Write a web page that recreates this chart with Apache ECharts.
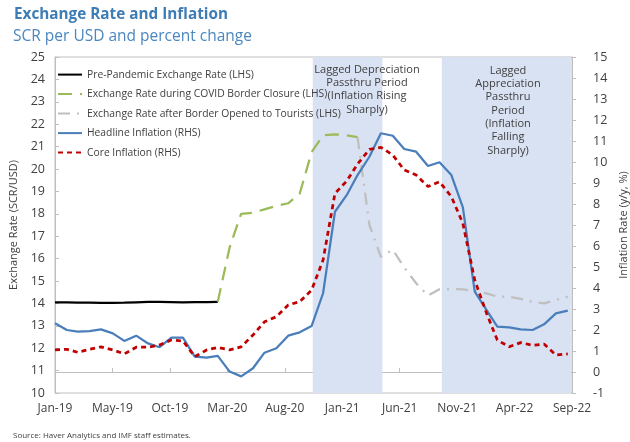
<!DOCTYPE html>
<html>
<head>
<meta charset="utf-8">
<script src="https://cdn.jsdelivr.net/npm/echarts@6/dist/echarts.min.js"></script>
<style>
  html, body { margin: 0; padding: 0; background: #fff; }
  #chart { width: 630px; height: 442px; }
</style>
</head>
<body>
<div id="chart"></div>
<script>
  // monthly observations, Jan-19 .. Sep-22
  const months = [
    'Jan-19', 'Feb-19', 'Mar-19', 'Apr-19', 'May-19', 'Jun-19', 'Jul-19', 'Aug-19', 'Sep-19', 'Oct-19', 'Nov-19', 'Dec-19',
    'Jan-20', 'Feb-20', 'Mar-20', 'Apr-20', 'May-20', 'Jun-20', 'Jul-20', 'Aug-20', 'Sep-20', 'Oct-20', 'Nov-20', 'Dec-20',
    'Jan-21', 'Feb-21', 'Mar-21', 'Apr-21', 'May-21', 'Jun-21', 'Jul-21', 'Aug-21', 'Sep-21', 'Oct-21', 'Nov-21', 'Dec-21',
    'Jan-22', 'Feb-22', 'Mar-22', 'Apr-22', 'May-22', 'Jun-22', 'Jul-22', 'Aug-22', 'Sep-22'
  ]
  const xTickLabels = ['Jan-19', 'May-19', 'Oct-19', 'Mar-20', 'Aug-20', 'Jan-21', 'Jun-21', 'Nov-21', 'Apr-22', 'Sep-22']

  // exchange rate, SCR per USD (LHS)
  const prePandemic = [14.05, 14.05, 14.03, 14.04, 14.02, 14.02, 14.03, 14.05, 14.07, 14.07, 14.06, 14.05,
    14.06, 14.06, 14.07]
  const borderClosure = [14.07, 16.5, 18.0, 18.05, 18.2, 18.35, 18.47, 18.9, 20.75, 21.5, 21.55, 21.5, 21.42] // Mar-20 .. Mar-21
  const borderOpened = [21.42, 17.5, 16.08, 16.4, 15.6, 14.9, 14.35, 14.63, 14.64, 14.63, 14.55, 14.45,
    14.3, 14.3, 14.2, 14.07, 14.0, 14.15, 14.3] // Mar-21 .. Sep-22

  // inflation, y/y % (RHS)
  const headline = [2.32, 2.0, 1.92, 1.95, 2.03, 1.84, 1.48, 1.73, 1.36, 1.18, 1.64, 1.64,
    0.73, 0.68, 0.77, 0.02, -0.21, 0.18, 0.92, 1.13, 1.73, 1.89, 2.19, 3.75,
    7.63, 8.43, 9.38, 10.25, 11.37, 11.25, 10.62, 10.49, 9.81, 9.99, 9.38, 7.84,
    3.83, 2.95, 2.16, 2.13, 2.03, 2.0, 2.27, 2.79, 2.92]
  const core = [1.05, 1.08, 0.94, 1.08, 1.2, 1.05, 0.86, 1.18, 1.18, 1.29, 1.52, 1.48,
    0.73, 1.05, 1.17, 1.05, 1.2, 1.76, 2.39, 2.63, 3.19, 3.35, 3.9, 5.33,
    8.5, 9.1, 9.9, 10.6, 10.7, 10.33, 9.62, 9.38, 8.83, 9.06, 8.35, 7.08,
    4.38, 2.79, 1.52, 1.2, 1.4, 1.27, 1.33, 0.81, 0.86]

  const shadePeriods = [['2020-11-04', '2021-05-05'], ['2021-10-07', '2022-09-09']]

  const MON = ['Jan', 'Feb', 'Mar', 'Apr', 'May', 'Jun', 'Jul', 'Aug', 'Sep', 'Oct', 'Nov', 'Dec']
  const START = Date.UTC(2019, 0, 1)
  const DAY = 86400000
  function monthDay(label) {
    const [m, y] = label.split('-')
    return (Date.UTC(2000 + Number(y), MON.indexOf(m), 1) - START) / DAY
  }
  function dateDay(s) {
    const [y, m, d] = s.split('-').map(Number)
    return (Date.UTC(y, m - 1, d) - START) / DAY
  }
  function pairs(values, startLabel) {
    const i0 = months.indexOf(startLabel)
    return values.map((v, i) => [monthDay(months[i0 + i]), v])
  }

  const textColor = '#404040'
  const font = 'Open Sans'

  const chart = echarts.init(document.getElementById('chart'))
  chart.setOption({
    animation: false,
    textStyle: { fontFamily: font },
    title: [{
      text: 'Exchange Rate and Inflation',
      left: 9, top: 2,
      textStyle: { fontSize: 15.3, fontWeight: 'bold', color: '#3e7cb5', fontFamily: font }
    }, {
      text: 'SCR per USD and percent change',
      left: 8, top: 24,
      textStyle: { fontSize: 15.5, fontWeight: 'normal', color: '#4a87c0', fontFamily: font }
    }, {
      text: 'Source: Haver Analytics and IMF staff estimates.',
      left: 8, top: 427,
      textStyle: { fontSize: 8, fontWeight: 'normal', color: textColor, fontFamily: font }
    }],
    grid: {
      left: 55, right: 58, top: 57, bottom: 49,
      outerBoundsMode: 'none',
      show: true, borderColor: '#bfbfbf', borderWidth: 1
    },
    legend: {
      orient: 'vertical',
      left: 57, top: 69, padding: 0,
      itemWidth: 24, itemHeight: 14, itemGap: 8.3,
      itemStyle: { opacity: 0 },
      textStyle: { fontSize: 10.3, color: textColor, fontFamily: font },
      data: ['Pre-Pandemic Exchange Rate (LHS)', 'Exchange Rate during COVID Border Closure (LHS)',
        'Exchange Rate after Border Opened to Tourists (LHS)', 'Headline Inflation (RHS)', 'Core Inflation (RHS)']
    },
    graphic: [{
      type: 'text', x: 367, y: 63, z: 100,
      style: {
        text: 'Lagged Depreciation\nPassthru Period\n(Inflation Rising\nSharply)',
        fontSize: 11, lineHeight: 13.3, fill: textColor, align: 'center', verticalAlign: 'top', fontFamily: font
      }
    }, {
      type: 'text', x: 508, y: 64, z: 100,
      style: {
        text: 'Lagged\nAppreciation\nPassthru\nPeriod\n(Inflation\nFalling\nSharply)',
        fontSize: 11, lineHeight: 13.3, fill: textColor, align: 'center', verticalAlign: 'top', fontFamily: font
      }
    }],
    xAxis: {
      type: 'value',
      min: 0, max: 1350, interval: 150,
      splitLine: { show: false },
      axisLine: { lineStyle: { color: '#bfbfbf' } },
      axisTick: { inside: true, length: 4, lineStyle: { color: '#bfbfbf' } },
      axisLabel: {
        fontSize: 12, color: textColor, margin: 10,
        formatter: v => xTickLabels[Math.round(v / 150)] || ''
      }
    },
    yAxis: [{
      type: 'value', position: 'left',
      min: 10, max: 25, interval: 1,
      name: 'Exchange Rate (SCR/USD)', nameLocation: 'middle', nameGap: 26,
      nameTextStyle: { fontSize: 11, color: textColor },
      splitLine: { show: false },
      axisLine: { show: true, lineStyle: { color: '#bfbfbf' } },
      axisTick: { show: true, inside: true, length: 4, lineStyle: { color: '#bfbfbf' } },
      axisLabel: { fontSize: 12.5, color: textColor, margin: 10 }
    }, {
      type: 'value', position: 'right',
      min: -1, max: 15, interval: 1,
      name: 'Inflation Rate (y/y, %)', nameLocation: 'middle', nameGap: 32,
      nameRotate: 90,
      nameTextStyle: { fontSize: 11, color: textColor },
      splitLine: { show: false },
      axisLine: { show: true, lineStyle: { color: '#bfbfbf' } },
      axisTick: { show: true, length: 4, lineStyle: { color: '#bfbfbf' } },
      axisLabel: { fontSize: 12.5, color: textColor, margin: 21 }
    }],
    series: [{
      name: 'shade',
      type: 'line',
      data: [],
      z: 1,
      markArea: {
        silent: true,
        itemStyle: { color: '#d9e2f3' },
        data: shadePeriods.map(p => [{ xAxis: dateDay(p[0]) }, { xAxis: dateDay(p[1]) }])
      }
    }, {
      name: 'Pre-Pandemic Exchange Rate (LHS)',
      type: 'line', yAxisIndex: 0, z: 3,
      showSymbol: false, symbol: 'none',
      data: pairs(prePandemic, 'Jan-19'),
      itemStyle: { color: '#000000' },
      lineStyle: { color: '#000000', width: 2.25 }
    }, {
      name: 'Exchange Rate during COVID Border Closure (LHS)',
      type: 'line', yAxisIndex: 0, z: 3,
      showSymbol: false, symbol: 'none',
      data: pairs(borderClosure, 'Mar-20'),
      itemStyle: { color: '#9bbb59' },
      lineStyle: { color: '#9bbb59', width: 2.25, type: [14, 8] }
    }, {
      name: 'Exchange Rate after Border Opened to Tourists (LHS)',
      type: 'line', yAxisIndex: 0, z: 3,
      showSymbol: false, symbol: 'none',
      data: pairs(borderOpened, 'Mar-21'),
      itemStyle: { color: '#bfbfbf' },
      lineStyle: { color: '#bfbfbf', width: 2.25, type: [12, 7, 2, 7] }
    }, {
      name: 'Headline Inflation (RHS)',
      type: 'line', yAxisIndex: 1, z: 4,
      showSymbol: false, symbol: 'none',
      data: pairs(headline, 'Jan-19'),
      itemStyle: { color: '#4a7ebb' },
      lineStyle: { color: '#4a7ebb', width: 2.25 }
    }, {
      name: 'Core Inflation (RHS)',
      type: 'line', yAxisIndex: 1, z: 5,
      showSymbol: false, symbol: 'none',
      data: pairs(core, 'Jan-19'),
      itemStyle: { color: '#c00000' },
      lineStyle: { color: '#c00000', width: 2.75, type: [5, 4] }
    }]
  })
</script>
</body>
</html>
